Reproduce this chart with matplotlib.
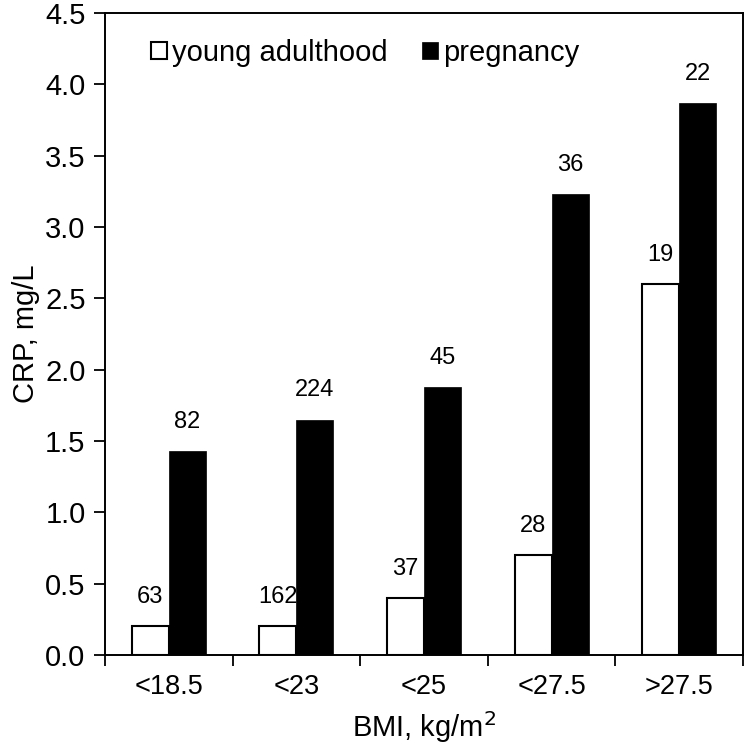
import matplotlib
matplotlib.use("Agg")
import matplotlib.pyplot as plt
import numpy as np

plt.rcParams["font.family"] = ["Liberation Sans", "DejaVu Sans"]

categories = ["<18.5", "<23", "<25", "<27.5", ">27.5"]
young = [0.2, 0.2, 0.4, 0.7, 2.6]
pregnancy = [1.43, 1.65, 1.88, 3.23, 3.87]
n_young = ["63", "162", "37", "28", "19"]
n_preg = ["82", "224", "45", "36", "22"]

fig = plt.figure(figsize=(7.47, 7.48), dpi=100)
ax = fig.add_axes([0.1406, 0.1243, 0.854, 0.8583])

x = np.arange(len(categories))
w = 0.29
b1 = ax.bar(x - w / 2, young, w, color="white", edgecolor="black", linewidth=1.5,
            label="young adulthood")
b2 = ax.bar(x + w / 2, pregnancy, w, color="black", edgecolor="black", linewidth=0.5,
            label="pregnancy")

for bars, labels in ((b1, n_young), (b2, n_preg)):
    for bar, lab in zip(bars, labels):
        ax.annotate(lab, (bar.get_x() + bar.get_width() / 2, bar.get_height()),
                    xytext=(0, 21), textcoords="offset points",
                    ha="center", va="center", fontsize=17)

ax.set_xlim(-0.5, 4.5)
ax.set_ylim(0, 4.5)
ax.set_yticks(np.arange(0, 4.51, 0.5))
ax.set_yticklabels([f"{v:.1f}" for v in np.arange(0, 4.51, 0.5)])
ax.set_xticks(x)
ax.set_xticklabels(categories)
ax.set_xticks(np.arange(-0.5, 4.6, 1), minor=True)
ax.tick_params(axis="x", which="major", length=0, labelsize=19.5, pad=14)
ax.tick_params(axis="x", which="minor", length=8, width=1.3, direction="out")
ax.tick_params(axis="y", length=8, width=1.3, direction="out", labelsize=21, pad=6)

for s in ax.spines.values():
    s.set_linewidth(1.4)

ax.set_xlabel("BMI, kg/m$^2$", fontsize=21, labelpad=6)
ax.set_ylabel("CRP, mg/L", fontsize=21, labelpad=4)

ax.legend(loc="center left", bbox_to_anchor=(0.053, 0.938), ncol=2, frameon=False,
          fontsize=21, handlelength=0.55, handleheight=0.55, handletextpad=0.2,
          columnspacing=1.15, borderaxespad=0)

fig.savefig("out.png", dpi=100)
